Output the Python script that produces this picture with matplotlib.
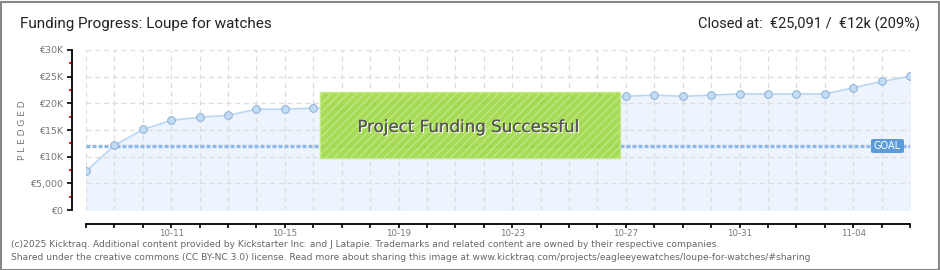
import matplotlib.pyplot as plt
import matplotlib.patheffects as pe
from matplotlib.patches import Rectangle, FancyBboxPatch
import numpy as np

# daily pledged totals, 10-08 .. 11-06
dates = ["10-08", "10-09", "10-10", "10-11", "10-12", "10-13", "10-14", "10-15",
         "10-16", "10-17", "10-18", "10-19", "10-20", "10-21", "10-22", "10-23",
         "10-24", "10-25", "10-26", "10-27", "10-28", "10-29", "10-30", "10-31",
         "11-01", "11-02", "11-03", "11-04", "11-05", "11-06"]
pledged = [7250, 12100, 15100, 16800, 17400, 17750, 18900, 18900, 19100, 19100,
           19900, 20050, 20250, 20250, 20400, 20250, 20750, 20900, 21300, 21300,
           21550, 21300, 21550, 21750, 21750, 21750, 21750, 22900, 24100, 25091]
goal = 12000
ytick_vals = [0, 5000, 10000, 15000, 20000, 25000, 30000]
ytick_labels = ["€0", "€5,000", "€10K", "€15K", "€20K", "€25K", "€30K"]

plt.rcParams["hatch.color"] = "#93cc3c"

W, H = 940, 270
fig = plt.figure(figsize=(W / 100, H / 100), dpi=100)
fig.patch.set_facecolor("white")

ax = fig.add_axes([86 / W, (H - 210) / H, 824 / W, 160 / H])
ax.set_facecolor("none")
x = np.arange(len(pledged))

ax.fill_between(x, 0, pledged, color="#edf4fd", zorder=1)
ax.plot(x, pledged, color="#b9d6f5", lw=1.2, zorder=3)
ax.plot(x, pledged, ls="none", marker="o", ms=5.5, mfc="#c4ddf7", mec="#93b4d9",
        mew=0.8, zorder=4)
ax.axhline(goal, color="#8fb8e6", lw=2.4, ls=(0, (1.2, 0.6)), zorder=2)

ax.set_xlim(0, len(pledged) - 1)
ax.set_ylim(0, 30000)
ax.set_xticks(x[3::4])
ax.set_xticklabels(dates[3::4])
ax.set_xticks(x, minor=True)
ax.set_yticks(ytick_vals)
ax.set_yticklabels(ytick_labels)
ax.set_yticks(np.arange(2500, 30000, 5000), minor=True)
ax.grid(True, axis="y", which="major", color="#dddddd", ls=(0, (4, 3)), lw=0.9, zorder=0)
ax.grid(True, axis="x", which="both", color="#dddddd", ls=(0, (4, 3)), lw=0.9, zorder=0)

for s in ["top", "right"]:
    ax.spines[s].set_visible(False)
ax.spines["left"].set_position(("outward", 10))
ax.spines["bottom"].set_position(("outward", 10))
ax.spines["left"].set_linewidth(1.3)
ax.spines["bottom"].set_linewidth(1.3)
ax.tick_params(axis="y", which="major", direction="out", length=3.5, width=1.2,
               color="black", labelsize=6.8, labelcolor="#777777", pad=3)
ax.tick_params(axis="y", which="minor", direction="out", length=2.5, width=1.2,
               color="#dd0000")
ax.tick_params(axis="x", which="both", direction="out", length=3, width=1.2,
               color="black", labelsize=6.2, labelcolor="#777777", pad=0.5)
ax.set_ylabel("P L E D G E D", fontsize=6.5, color="#777777", labelpad=2)

# success banner
fig.patches.append(Rectangle((320 / W, (H - 158) / H), 300 / W, 66 / H,
                             transform=fig.transFigure, facecolor="#9fd943",
                             edgecolor="#c4e88a", lw=1, alpha=0.9,
                             hatch="////", zorder=5))
fig.text(468 / W, 1 - 127 / H, "Project Funding Successful", ha="center",
         va="center", fontsize=12, color="#555555", family="DejaVu Sans",
         path_effects=[pe.withSimplePatchShadow(offset=(0.8, -0.8),
                                                shadow_rgbFace="white", alpha=1),
                       pe.Normal()], zorder=6)

# goal tag
fig.patches.append(FancyBboxPatch((871 / W, (H - 153) / H), 33 / W, 14 / H,
                                  boxstyle="round,pad=0,rounding_size=0.004",
                                  transform=fig.transFigure, facecolor="#5b9bdc",
                                  edgecolor="none", zorder=6))
fig.text(887.5 / W, 1 - 146 / H, "GOAL", ha="center", va="center", fontsize=7,
         color="white", zorder=7)

fig.text(20 / W, 1 - 24 / H, "Funding Progress: Loupe for watches", ha="left",
         va="center", fontsize=11, color="#222222", family="Roboto")
fig.text(920 / W, 1 - 24 / H, "Closed at:  €25,091 /  €12k (209%)", ha="right",
         va="center", fontsize=10.5, color="#222222", family="Roboto")
fig.text(11 / W, 1 - 244.5 / H,
         "(c)2025 Kicktraq. Additional content provided by Kickstarter Inc. and J Latapie. "
         "Trademarks and related content are owned by their respective companies.",
         ha="left", va="center", fontsize=6.6, color="#666666")
fig.text(11 / W, 1 - 257 / H,
         "Shared under the creative commons (CC BY-NC 3.0) license. Read more about sharing "
         "this image at www.kicktraq.com/projects/eagleeyewatches/loupe-for-watches/#sharing",
         ha="left", va="center", fontsize=6.6, color="#666666")

fig.patches.append(Rectangle((0.5 / W, 0.5 / H), (W - 2) / W, (H - 2) / H,
                             transform=fig.transFigure, facecolor="none",
                             edgecolor="#888888", lw=1.5, zorder=10))

fig.savefig("out.png", dpi=100)
